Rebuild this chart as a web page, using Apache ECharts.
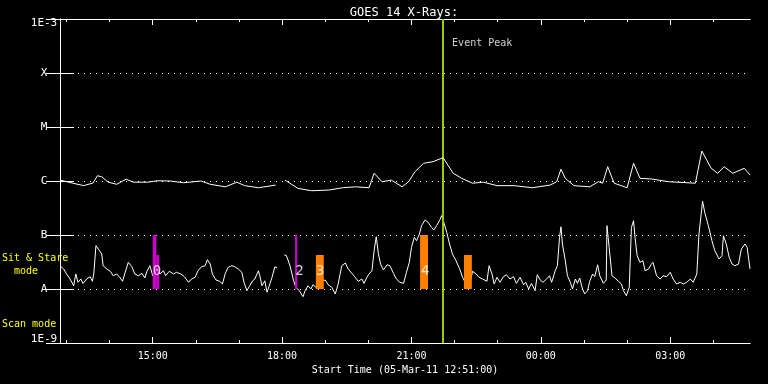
<!DOCTYPE html>
<html><head><meta charset="utf-8">
<script src="https://cdn.jsdelivr.net/npm/echarts@6/dist/echarts.min.js"></script>
<style>html,body{margin:0;padding:0;background:#000}#c{width:768px;height:384px}</style>
</head><body><div id="c"></div>
<script>
// ---- data ----  (time = minutes after start 05-Mar-11 12:51:00)
const spanMinutes = 960;
// long channel (1-8 A), flux W/m^2
const longMinutes = [0,18,33,46,52,58,67,79,92,102,122,135,153,172,196,209,230,246,257,276,300,306,313,331,350,374,393,411,430,437,448,461,476,485,494,506,519,533,547,559,574,589,608,632,657,682,691,697,703,715,737,749,755,762,771,789,798,807,823,847,884,893,906,915,924,936,952,960];
const longFlux = [1.04e-6,9.1e-7,8.2e-7,9.2e-7,1.25e-6,1.2e-6,9.5e-7,8.7e-7,1.08e-6,9.5e-7,9.5e-7,1.01e-6,1.0e-6,9.3e-7,1.0e-6,8.7e-7,7.8e-7,9.5e-7,8.2e-7,7.5e-7,8.4e-7,null,1.04e-6,7.3e-7,6.6e-7,6.8e-7,7.5e-7,7.8e-7,7.5e-7,1.39e-6,9.7e-7,1.04e-6,7.8e-7,9.7e-7,1.49e-6,2.13e-6,2.28e-6,2.7e-6,1.39e-6,1.12e-6,9.1e-7,9.5e-7,8.2e-7,8.2e-7,7.5e-7,8.4e-7,9.7e-7,1.65e-6,1.12e-6,8.2e-7,7.8e-7,9.7e-7,9.1e-7,1.84e-6,9.1e-7,7.5e-7,2.13e-6,1.12e-6,1.09e-6,9.7e-7,9.1e-7,3.59e-6,1.72e-6,1.39e-6,1.84e-6,1.39e-6,1.72e-6,1.29e-6];
// short channel (0.5-4 A)
const shortMinutes = [0,5,9,14,19,22,25,29,32,37,42,45,47,50,55,58,60,65,70,74,79,83,87,90,95,100,104,109,114,118,121,125,129,134,139,144,147,152,158,162,168,173,179,183,188,192,197,202,205,209,212,217,222,226,230,234,239,243,248,253,256,260,264,268,271,276,278,281,285,288,292,295,299,302,306,312,315,320,325,328,333,338,341,345,349,352,356,359,364,369,373,378,383,387,392,397,401,406,410,415,420,423,427,430,434,437,440,443,446,450,455,459,464,468,473,478,482,486,489,493,496,500,503,508,512,517,520,524,528,531,534,538,542,546,551,556,560,565,569,574,579,583,588,594,597,601,604,608,612,617,621,626,631,635,640,645,648,652,656,661,664,668,672,677,681,684,689,692,695,697,699,703,706,710,713,717,720,723,727,730,734,737,741,744,748,751,756,760,761,764,768,772,777,781,784,788,792,795,798,800,803,807,811,814,819,822,825,830,835,839,844,849,853,858,863,867,872,877,881,886,889,894,897,902,907,911,917,921,923,927,931,935,939,944,948,953,956,960];
const shortFlux = [2.7e-8,2.35e-8,1.9e-8,1.53e-8,1.15e-8,1.9e-8,1.33e-8,1.53e-8,1.27e-8,1.53e-8,1.69e-8,1.39e-8,1.9e-8,6.33e-8,5.12e-8,4.45e-8,2.7e-8,2.35e-8,2.13e-8,1.76e-8,1.9e-8,1.65e-8,1.39e-8,1.9e-8,3.12e-8,2.59e-8,1.9e-8,1.76e-8,1.95e-8,1.6e-8,2.13e-8,2.7e-8,1.76e-8,2.7e-8,1.9e-8,2.18e-8,1.76e-8,2.13e-8,1.9e-8,2.04e-8,1.9e-8,1.69e-8,1.33e-8,1.53e-8,1.65e-8,2.18e-8,2.59e-8,2.7e-8,3.49e-8,2.9e-8,1.9e-8,1.47e-8,1.39e-8,1.24e-8,1.95e-8,2.52e-8,2.7e-8,2.59e-8,2.35e-8,2.04e-8,1.33e-8,9.3e-9,1.15e-8,1.42e-8,1.53e-8,2.18e-8,1.76e-8,1.15e-8,1.42e-8,8.7e-9,1.24e-8,1.65e-8,2.59e-8,2.45e-8,null,4.26e-8,4.14e-8,2.7e-8,1.42e-8,1.08e-8,9.3e-9,7.2e-9,9.3e-9,1.15e-8,1.0e-8,1.2e-8,1.08e-8,1.24e-8,1.39e-8,1.47e-8,1.2e-8,1.08e-8,8.1e-9,1.24e-8,2.7e-8,3.03e-8,2.35e-8,1.95e-8,1.69e-8,1.39e-8,1.53e-8,1.27e-8,1.65e-8,1.9e-8,2.18e-8,5.12e-8,9.3e-8,4.45e-8,2.9e-8,2.25e-8,2.81e-8,2.7e-8,1.95e-8,1.53e-8,1.33e-8,1.27e-8,2.04e-8,3.12e-8,5.9e-8,9.06e-8,7.85e-8,1.04e-7,1.49e-7,1.9e-7,1.72e-7,1.38e-7,1.24e-7,1.49e-7,1.84e-7,2.28e-7,1.72e-7,1.12e-7,6.81e-8,4.45e-8,3.34e-8,2.35e-8,1.65e-8,1.24e-8,1.08e-8,2.13e-8,1.9e-8,1.65e-8,1.53e-8,1.39e-8,2.7e-8,1.9e-8,1.24e-8,1.65e-8,1.33e-8,1.69e-8,1.84e-8,1.53e-8,1.69e-8,1.27e-8,1.65e-8,1.2e-8,1.33e-8,1.0e-8,1.27e-8,9.3e-9,1.84e-8,1.47e-8,1.33e-8,1.53e-8,1.76e-8,1.33e-8,2.18e-8,2.7e-8,9.06e-8,1.42e-7,6.81e-8,3.34e-8,1.76e-8,1.33e-8,1.0e-8,1.53e-8,1.27e-8,1.6e-8,1.0e-8,8.1e-9,9.3e-9,1.39e-8,1.9e-8,1.69e-8,2.81e-8,1.76e-8,1.27e-8,1.47e-8,1.49e-7,5.9e-8,1.76e-8,1.6e-8,1.39e-8,1.24e-8,9.3e-9,7.5e-9,1.08e-8,1.38e-7,1.84e-7,9.06e-8,4.14e-8,3.12e-8,3.34e-8,2.18e-8,2.35e-8,2.81e-8,3.12e-8,1.76e-8,1.53e-8,1.76e-8,1.69e-8,2.04e-8,1.53e-8,1.24e-8,1.33e-8,1.24e-8,1.33e-8,1.53e-8,1.33e-8,1.9e-8,1.04e-7,4.21e-7,2.63e-7,1.49e-7,7.85e-8,5.12e-8,3.59e-8,4.14e-8,9.7e-8,6.81e-8,3.86e-8,2.9e-8,2.7e-8,2.9e-8,5.5e-8,6.81e-8,5.9e-8,2.35e-8];
// time-axis ticks (minutes after start)
const minorTickMinutes = [9,69,129,189,249,309,369,429,489,549,609,669,729,789,849,909];
const majorTickMinutes = [129,309,489,669,849];
const majorTickLabels = ['15:00','18:00','21:00','00:00','03:00'];
// level tick labels, by decade exponent
const levelExponents = [-3,-4,-5,-6,-7,-8,-9];
const levelLabels = ['1E-3','X','M','C','B','A','1E-9'];
// observation bars (minutes after start)
const barStartMinutes = [129,134,327,356,501,562];
const barEndMinutes   = [134,138,330,367,512,573];
const barTopFlux      = [1.0e-7,4.26e-8,1.0e-7,4.26e-8,1.0e-7,4.26e-8];
const barBaseFlux = 1.0e-8;
const barModes = ['stare','stare','stare','scan','scan','scan'];
const barLabels = ['0','2','3','4'];
const barLabelMinutes = [135,333,362,508];
const barLabelFlux = 2.15e-8;
const peakMinute = 533;
const peakLabelFlux = 3.6e-4;

// ---- build ----
const longData = longMinutes.map((m,i)=>[m, longFlux[i]]);
const shortData = shortMinutes.map((m,i)=>[m, shortFlux[i]]);
const barData = barStartMinutes.map((m,i)=>[m, barEndMinutes[i], barTopFlux[i], barBaseFlux, barModes[i]==='stare'?0:1]);
const labelData = barLabelMinutes.map((m,i)=>({value:[m, barLabelFlux], name: barLabels[i]}));
const modeColors = ['#cc00cc','#ff8000'];
const MONO = '"DejaVu Sans Mono", monospace';

function xAx(pos, ticks, len, showLabel){
  return {
    type:'value', position:pos, min:0, max:spanMinutes,
    axisLine:{show:true, onZero:false, lineStyle:{color:'#fff', width:1}},
    axisTick:{show:true, inside:true, length:len, customValues:ticks, lineStyle:{color:'#fff'}},
    splitLine:{show:false},
    axisLabel: showLabel ? {
      show:true, color:'#fff', fontFamily:MONO, fontSize:10, margin:8,
      customValues:ticks, hideOverlap:false,
      formatter: function(v){ const i=majorTickMinutes.indexOf(Math.round(v)); return i<0?'':majorTickLabels[i]; }
    } : {show:false},
    name: showLabel ? 'Start Time (05-Mar-11 12:51:00)' : '',
    nameLocation:'middle', nameGap:21,
    nameTextStyle:{color:'#fff', fontFamily:MONO, fontSize:10}
  };
}
function yAx(pos, showLabel){
  return {
    type:'log', logBase:10, position:pos, min:1e-9, max:1e-3,
    axisLine:{show:true, lineStyle:{color:'#fff', width:1}},
    axisTick:{show:true, inside:true, length:14, lineStyle:{color:'#fff'}},
    splitLine:{show: showLabel, lineStyle:{color:'#fff', width:1, type:[1,5]}},
    minorTick:{show:false},
    axisLabel: showLabel ? {
      show:true, color:'#fff', fontFamily:MONO, fontSize:11, margin:16, align:'center',
      rich:{ t:{fontFamily:MONO, fontSize:11, color:'#fff', padding:[9,0,0,0]},
             b:{fontFamily:MONO, fontSize:11, color:'#fff', padding:[0,0,7,0]} },
      formatter: function(v){
        const e=Math.round(Math.log10(v)); const i=levelExponents.indexOf(e);
        if(i<0) return '';
        if(i===0) return '{t|'+levelLabels[i]+'}';
        if(i===levelLabels.length-1) return '{b|'+levelLabels[i]+'}';
        return levelLabels[i];
      }
    } : {show:false}
  };
}

const option = {
  backgroundColor:'#000',
  animation:false,
  title:{text:'GOES 14 X-Rays:', left:399, top:2, textAlign:'center',
    textStyle:{color:'#fff', fontFamily:MONO, fontSize:12, fontWeight:'normal'}},
  grid:{left:60, right:18, top:19, bottom:41, containLabel:false},
  xAxis:[xAx('bottom',minorTickMinutes,3,false), xAx('bottom',majorTickMinutes,6,true), xAx('top',minorTickMinutes,3,false), xAx('top',majorTickMinutes,6,false)],
  yAxis:[yAx('left',true), yAx('right',false)],
  graphic:[
    {type:'text', left:2, top:252, style:{text:'Sit & Stare\n  mode', fill:'#ffff00', font:'10px '+MONO, lineHeight:13}},
    {type:'text', left:2, top:319, style:{text:'Scan mode', fill:'#ffff00', font:'10px '+MONO}}
  ],
  series:[
    {type:'line', name:'short', data:shortData, showSymbol:false, symbol:'none', connectNulls:false,
     lineStyle:{color:'#fff', width:1}, z:2},
    {type:'custom', name:'bars', data:barData, z:3,
     encode:{x:[0,1], y:[2,3]},
     renderItem:function(params, api){
       const p0 = api.coord([api.value(0), api.value(2)]);
       const p1 = api.coord([api.value(1), api.value(3)]);
       return {type:'rect', shape:{x:p0[0], y:p0[1], width:p1[0]-p0[0], height:p1[1]-p0[1]},
         style:{fill: modeColors[api.value(4)]}};
     }},
    {type:'scatter', name:'labels', data:labelData, symbolSize:0, z:4,
     label:{show:true, position:'inside', formatter:'{b}', color:'#fff', fontFamily:MONO, fontSize:14}},
    {type:'line', name:'long', data:longData, showSymbol:false, symbol:'none', connectNulls:false,
     lineStyle:{color:'#fff', width:1}, z:5,
     markLine:{silent:true, symbol:'none', label:{show:false},
       lineStyle:{color:'#99cc00', width:2, type:'solid'},
       data:[{xAxis: peakMinute}]}},
    {type:'scatter', name:'peak', data:[[peakMinute, peakLabelFlux]], symbolSize:0, z:6,
     label:{show:true, position:'right', distance:9, formatter:'Event Peak', color:'#fff', fontFamily:MONO, fontSize:10}}
  ]
};
const chart = echarts.init(document.getElementById('c'), null, {renderer:'canvas'});
chart.setOption(option);
</script></body></html>
